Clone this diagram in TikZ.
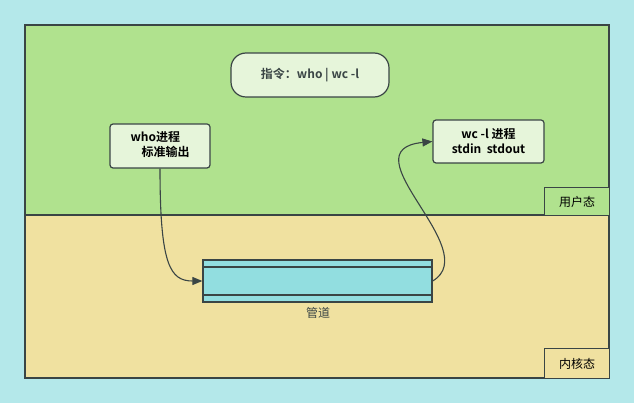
\documentclass[tikz,border=0pt]{standalone}
\usepackage{fontspec}
\setmainfont{Noto Sans CJK SC}[BoldFont={Noto Sans CJK SC Bold}]
\usetikzlibrary{arrows.meta}
\definecolor{bgc}{HTML}{B4E8EA}
\definecolor{userc}{HTML}{B0E28E}
\definecolor{kernc}{HTML}{F0E1A0}
\definecolor{linec}{HTML}{3A4545}
\definecolor{boxc}{HTML}{E6F5DA}
\definecolor{pipec}{HTML}{92DEE0}
\tikzset{
  region/.style={draw=linec, line width=1.3pt},
  procbox/.style={draw=linec, line width=1.2pt, fill=boxc, rounded corners=3pt, font=\bfseries\fontsize{12}{15}\selectfont, align=center, inner sep=0pt},
  tagbox/.style={draw=linec, line width=1.3pt, font=\fontsize{12}{14}\selectfont, text=black, inner sep=0pt},
  conn/.style={draw=linec, line width=1.1pt, -{Triangle[length=10pt,width=8pt]}},
}
\begin{document}
\begin{tikzpicture}[x=1pt,y=-1pt]
\fill[bgc] (0,0) rectangle (634,403);
\useasboundingbox (0,0) rectangle (634,403);
\fill[kernc] (25,215) rectangle (609,378);
\fill[userc] (25,25) rectangle (609,215);
\draw[region] (25,25) rectangle (609,378);
\draw[region] (25,215) -- (609,215);
% tags
\node[tagbox, fill=userc, minimum width=65pt, minimum height=28pt, anchor=north west] (user) at (544,187) {用户态};
\node[tagbox, fill=kernc, minimum width=65pt, minimum height=30pt, anchor=north west] (kern) at (544,348) {内核态};
% command
\node[draw=linec, line width=1.2pt, fill=boxc, rounded corners=15pt, minimum width=158pt, minimum height=44pt, inner sep=0pt, text=linec, font=\bfseries\fontsize{12}{14}\selectfont] (cmd) at (310,75) {指令：who | wc -l};
% who box
\node[procbox, minimum width=100pt, minimum height=44pt] (who) at (160,146) {\begin{tabular}{@{}l@{}}who进程\\\hspace{11pt}标准输出\end{tabular}};
% wc box
\node[procbox, minimum width=111pt, minimum height=43pt] (wc) at (488.5,141.5) {wc -l 进程\\stdin\ \ stdout};
% pipe
\node[draw=linec, line width=1.3pt, fill=pipec, minimum width=229pt, minimum height=42pt, inner sep=0pt] (pipe) at (317.5,281) {};
\draw[linec, line width=1.2pt] (203,267) -- (432,267) (203,295) -- (432,295);
\node[font=\fontsize{12}{14}\selectfont, text=linec] (plabel) at (318,313) {管道};
% connectors
\draw[conn] (who.south) .. controls (160,265) and (170,281) .. (pipe.west);
\draw[conn] (pipe.east) .. controls (485,250) and (345,150) .. (wc.west);
\end{tikzpicture}
\end{document}
